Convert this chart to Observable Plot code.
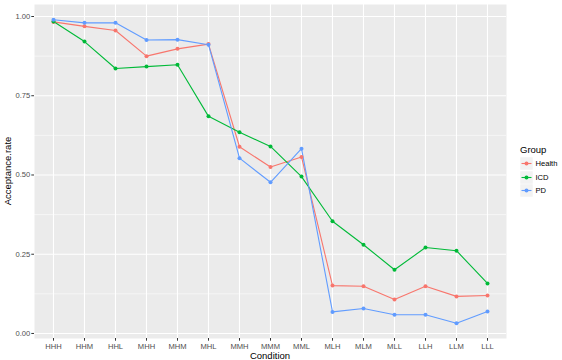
<!DOCTYPE html>
<html>
<head>
<meta charset="utf-8">
<script src="https://cdn.jsdelivr.net/npm/d3@7"></script>
<script src="https://cdn.jsdelivr.net/npm/@observablehq/plot@0.6"></script>
<style>
  html, body { margin: 0; padding: 0; background: #fff; }
  #wrap { position: relative; width: 562px; height: 360px; font-family: "Liberation Sans", Arial, Helvetica, sans-serif; }
  #wrap svg { position: absolute; left: 0; top: 0; }
  .ttl { position: absolute; color: #000; font-size: 9.5px; white-space: nowrap; }
  #ylab { left: 7px; top: 171px; transform: translate(-50%, -50%) rotate(-90deg); }
  #xlab { left: 270px; top: 355px; transform: translate(-50%, -50%); }
  #legend { position: absolute; left: 520px; top: 143px; }
  #legend .title { font-size: 9.5px; color: #000; height: 14px; line-height: 14px; }
  #legend .row { display: flex; align-items: center; height: 13.4px; }
  #legend .row span { font-size: 7.6px; color: #000; margin-left: 2.5px; }
</style>
</head>
<body>
<div id="wrap">
  <div id="ylab" class="ttl">Acceptance.rate</div>
  <div id="xlab" class="ttl">Condition</div>
  <div id="legend"></div>
</div>
<script>
const conditions = ["HHH","HHM","HHL","MHH","MHM","MHL","MMH","MMM","MML","MLH","MLM","MLL","LLH","LLM","LLL"];
const groups = ["Health", "ICD", "PD"];
const colors = ["#F8766D", "#00BA38", "#619CFF"];
const health = [0.983, 0.969, 0.956, 0.875, 0.898, 0.913, 0.589, 0.525, 0.557, 0.151, 0.149, 0.107, 0.149, 0.117, 0.120];
const icd    = [0.984, 0.921, 0.836, 0.842, 0.848, 0.685, 0.635, 0.590, 0.495, 0.354, 0.280, 0.201, 0.271, 0.261, 0.158];
const pd     = [0.990, 0.980, 0.980, 0.926, 0.927, 0.911, 0.553, 0.477, 0.583, 0.068, 0.079, 0.059, 0.059, 0.032, 0.069];
const yTicks = [0, 0.25, 0.5, 0.75, 1];
const yMinor = [0.125, 0.375, 0.625, 0.875];

const series = [health, icd, pd];
const data = [];
groups.forEach((g, gi) => conditions.forEach((c, i) => data.push({Group: g, Condition: c, rate: series[gi][i]})));

const [lo, hi] = d3.extent(data, d => d.rate);
const pad = (hi - lo) * 0.05;

const chart = Plot.plot({
  width: 562,
  height: 360,
  marginLeft: 34,
  marginRight: 56,
  marginTop: 4,
  marginBottom: 22,
  style: { fontFamily: "Liberation Sans, Arial, Helvetica, sans-serif", background: "transparent" },
  x: { type: "point", domain: conditions, padding: 0.6, label: null },
  y: { domain: [lo - pad, hi + pad], label: null },
  color: { domain: groups, range: colors },
  marks: [
    Plot.frame({ fill: "#EBEBEB", stroke: null }),
    Plot.gridY(yMinor, { stroke: "#fff", strokeOpacity: 1, strokeWidth: 0.55 }),
    Plot.gridY(yTicks, { stroke: "#fff", strokeOpacity: 1, strokeWidth: 1.1 }),
    Plot.gridX(conditions, { stroke: "#fff", strokeOpacity: 1, strokeWidth: 1.1 }),
    Plot.axisY(yTicks, { tickFormat: d3.format(".2f"), tickSize: 2.7, tickPadding: 1.5, fontSize: 7.6, stroke: "#333", color: "#4D4D4D", label: null }),
    Plot.axisX(conditions, { tickSize: 2.7, tickPadding: 2, fontSize: 7.6, stroke: "#333", color: "#4D4D4D", label: null }),
    Plot.line(data, { x: "Condition", y: "rate", z: "Group", stroke: "Group", strokeWidth: 1.1 }),
    Plot.dot(data, { x: "Condition", y: "rate", fill: "Group", r: 2 })
  ]
});
document.getElementById("wrap").prepend(chart);

const legend = document.getElementById("legend");
legend.innerHTML = '<div class="title">Group</div>' + groups.map((g, i) =>
  `<div class="row"><svg width="13" height="13" style="position:static"><rect width="13" height="13" fill="#F2F2F2" stroke="#fff" stroke-width="0.5"/><line x1="1.5" y1="6.5" x2="11.5" y2="6.5" stroke="${colors[i]}" stroke-width="1.1"/><circle cx="6.5" cy="6.5" r="2" fill="${colors[i]}"/></svg><span>${g}</span></div>`
).join("");
</script>
</body>
</html>
